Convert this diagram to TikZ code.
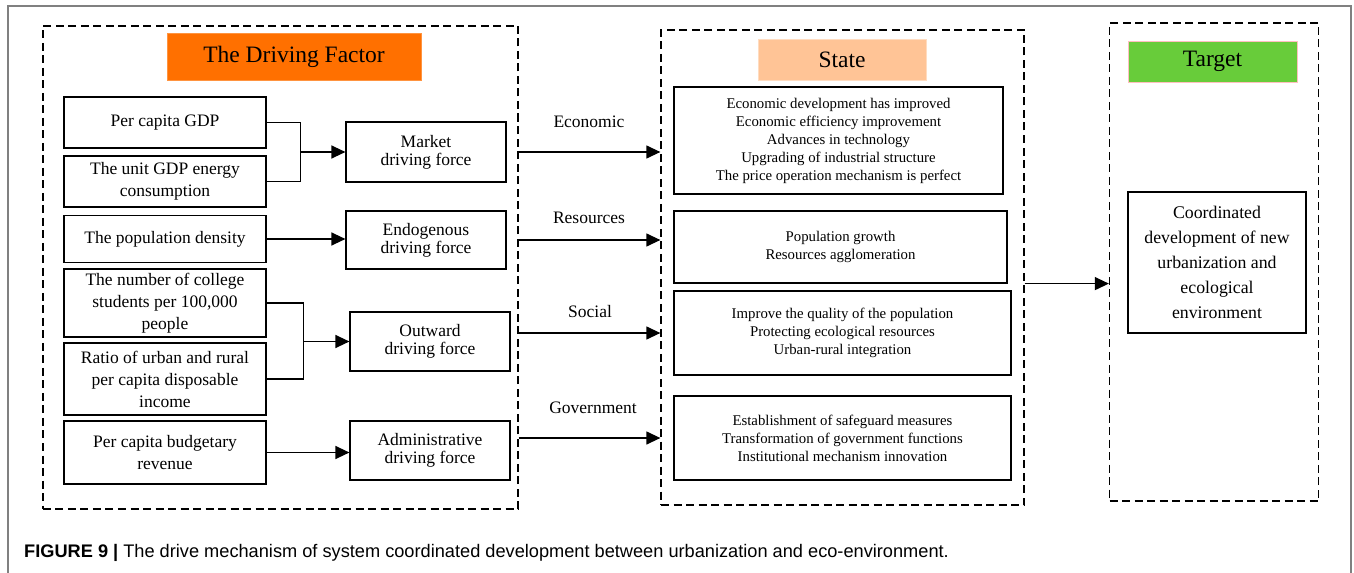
\documentclass[tikz,border=0pt]{standalone}
\usepackage{fontspec}
\setmainfont{Liberation Serif}
\newfontfamily\capfont{Liberation Sans}
\usetikzlibrary{arrows.meta}
\definecolor{dforange}{RGB}{255,112,0}
\definecolor{stpeach}{RGB}{255,196,150}
\definecolor{tggreen}{RGB}{104,204,58}
\definecolor{framegray}{RGB}{128,128,128}

\begin{document}
\begin{tikzpicture}[x=1bp,y=-1bp,
                    >={Triangle[length=14bp,width=13bp]},
                    box/.style={draw,line width=1.2bp,inner sep=0pt,align=center},
                    factor node/.style={box,minimum width=202bp,font=\fontsize{17.5bp}{22bp}\selectfont},
                    force node/.style={box,minimum width=160bp,minimum height=59bp,font=\fontsize{17.5bp}{18bp}\selectfont},
                    state node/.style={box,font=\fontsize{14.8bp}{18bp}\selectfont},
                    title node/.style={inner sep=0pt,font=\fontsize{23.5bp}{28bp}\selectfont},
                    group box/.style={draw,dash pattern=on 8bp off 4.5bp,line width=1.3bp,inner sep=0pt},
                    label node/.style={inner sep=0pt,font=\fontsize{17.5bp}{20bp}\selectfont},
                    link/.style={->,line width=1.3bp}
                   ]
   \fill[white] (0,0) rectangle (1354,573);
   \useasboundingbox (0,0) rectangle (1354,573);
   \draw[framegray,line width=1.5bp] (8,573) -- (8,6) -- (1351,6) -- (1351,573);

   % dashed groups
   \node[group box,minimum width=475bp,minimum height=483bp] (dfbox) at (280.5,267.5) {};
   \node[group box,minimum width=363bp,minimum height=475bp] (stbox) at (842.5,267.5) {};
   \node[group box,minimum width=209bp,minimum height=478bp] (tgbox) at (1214,262) {};

   \node[title node,fill=dforange,draw=dforange!75!white,minimum width=254bp,minimum height=47bp] (dftitle) at (294,56.5) {The Driving Factor};
   \node[title node,fill=stpeach,draw=stpeach!60!white,minimum width=168bp,minimum height=41bp] (sttitle) at (842,59.5) {State};
   \node[title node,fill=tggreen,draw=red!25,minimum width=169bp,minimum height=41bp] (tgtitle) at (1212.5,61.5) {Target};

   \node[factor node,minimum height=51bp] (b1) at (165,122.5) {Per capita GDP};
   \node[factor node,minimum height=51bp] (b2) at (165,181.5) {The unit GDP energy\\consumption};
   \node[factor node,minimum height=47bp] (b3) at (165,239) {The population density};
   \node[factor node,minimum height=68bp] (b4) at (165,303) {The number of college\\students per 100,000\\people};
   \node[factor node,minimum height=72bp] (b5) at (165,379) {Ratio of urban and rural\\per capita disposable\\income};
   \node[factor node,minimum height=63bp] (b6) at (165,452.5) {Per capita budgetary\\revenue};

   \node[force node,minimum height=60bp] (m1) at (426,152) {Market\\driving force};
   \node[force node,minimum height=58bp] (m2) at (426,240) {Endogenous\\driving force};
   \node[force node] (m3) at (430,341.5) {Outward\\driving force};
   \node[force node] (m4) at (430,450.5) {Administrative\\driving force};

   \node[state node,minimum width=329bp,minimum height=107bp] (s1) at (838.5,140.5) {Economic development has improved\\Economic efficiency improvement\\Advances in technology\\Upgrading of industrial structure\\The price operation mechanism is perfect};
   \node[state node,minimum width=333bp,minimum height=72bp] (s2) at (840.5,247) {Population growth\\Resources agglomeration};
   \node[state node,minimum width=337bp,minimum height=84bp] (s3) at (842.5,333) {Improve the quality of the population\\Protecting ecological resources\\Urban-rural integration};
   \node[state node,minimum width=337bp,minimum height=84bp] (s4) at (842.5,438) {Establishment of safeguard measures\\Transformation of government functions\\Institutional mechanism innovation};

   \node[box,minimum width=178bp,minimum height=141bp,font=\fontsize{17.8bp}{25bp}\selectfont] (t1) at (1217,262.5) {Coordinated\\development of new\\urbanization and\\ecological\\environment};

   \node[label node] (leco) at (589,122) {Economic};
   \node[label node] (lres) at (589,218) {Resources};
   \node[label node] (lsoc) at (590,312) {Social};
   \node[label node] (lgov) at (593,408) {Government};

   \coordinate (j1) at (300.5,152);
   \coordinate (j2) at (303.5,341.5);
   \draw[line width=1.2bp] (b1.east) -| (j1) |- (b2.east);
   \draw[line width=1.2bp] (b4.east) -| (j2) |- (b5.east);
   \path[link]%
     (j1) edge (m1.west)
     (b3.east) edge (b3.east -| m2.west)
     (j2) edge (m3.west)
     (b6.east) edge (b6.east -| m4.west)
     (dfbox.east |- m1) edge (stbox.west |- m1)
     (dfbox.east |- m2) edge (stbox.west |- m2)
     (dfbox.east |- s3) edge (stbox.west |- s3)
     (dfbox.east |- s4) edge (stbox.west |- s4)
     (stbox.east |- s2.south) edge (tgbox.west |- s2.south);

   \node[anchor=base west,inner sep=0pt,font=\capfont\fontsize{18.2bp}{22bp}\selectfont] (caption) at (24,557) {\textbf{FIGURE 9 |} The drive mechanism of system coordinated development between urbanization and eco-environment.};
\end{tikzpicture}
\end{document}
